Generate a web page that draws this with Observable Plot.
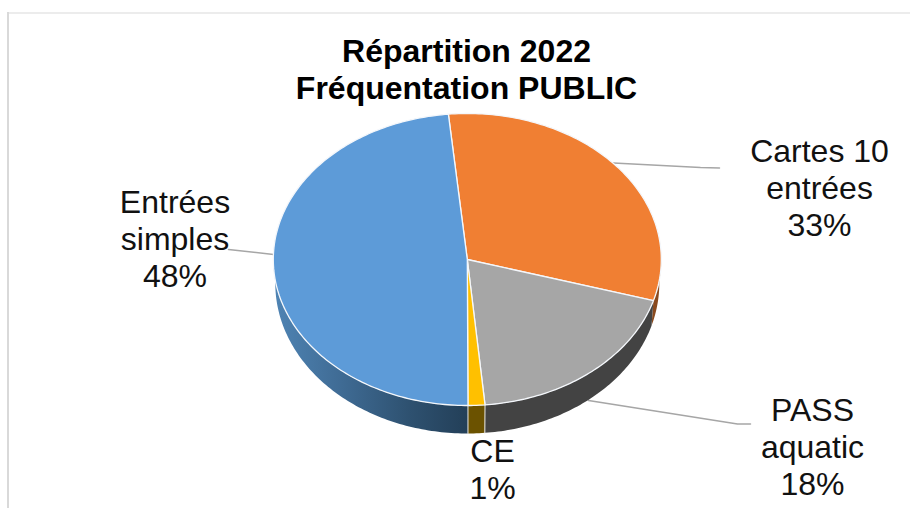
<!DOCTYPE html>
<html>
<head>
<meta charset="utf-8">
<script src="https://cdn.jsdelivr.net/npm/d3@7"></script>
<script src="https://cdn.jsdelivr.net/npm/@observablehq/plot@0.6"></script>
<style>
html,body{margin:0;padding:0;background:#fff}
svg{display:block}
</style>
</head>
<body>
<div id="chart"></div>
<script>
// Data
const categories = ["Cartes 10\nentrées", "PASS\naquatic", "CE", "Entrées\nsimples"];
const percentLabels = [33, 18, 1, 48];
// apparent share of the ellipse each slice occupies
const apparentShares = [31.1, 19, 1.4, 48.5];
const titleLines = ["Répartition 2022", "Fréquentation PUBLIC"];

// Style
const topColors = ["#f07f33", "#a6a6a6", "#ffc000", "#5d9bd8"];
const sideFills = ["#8a4a1e", "#434343", "#6b5200", "url(#blueSide)"];
const font = "Liberation Sans, Arial, sans-serif";

// Layout
const W = 910, H = 508;
const startDeg = -5.6;
const topE = {cx: 466.8, cy: 259, rx: 194, ry: 146};
const botE = {cx: 466.8, cy: 283, rx: 192, ry: 150};
const labelAt = [
  {x: 819, y: 186.5},
  {x: 812, y: 445.5},
  {x: 492, y: 468.5},
  {x: 174.5, y: 237.5}
];
const leaders = [
  [{x: 613, y: 162.5}, {x: 700, y: 167}, {x: 719, y: 167.5}],
  [{x: 588, y: 400}, {x: 737, y: 423.5}, {x: 750, y: 423.5}],
  [{x: 228, y: 249}, {x: 273, y: 254}]
];

const rad = d => d * Math.PI / 180;
const onE = (e, deg) => ({x: e.cx + e.rx * Math.sin(rad(deg)), y: e.cy - e.ry * Math.cos(rad(deg))});
function arc(e, a, b) {
  const n = Math.max(2, Math.ceil(Math.abs(b - a) / 1));
  return d3.range(n + 1).map(i => onE(e, a + (b - a) * i / n));
}
const edges = [startDeg, ...d3.cumsum(apparentShares, v => v * 3.6)].map((v, i) => i === 0 ? v : v + startDeg);
const slices = apparentShares.map((_, i) => ({a: edges[i], b: edges[i + 1]}));

const tops = slices.map(s => {
  const pts = [{x: topE.cx, y: topE.cy}, ...arc(topE, s.a, s.b)];
  pts.push(pts[0]);
  return pts;
});
const sides = slices.map(s => {
  const a = Math.max(s.a, 90), b = Math.min(s.b, 270);
  if (a >= b) return [];
  const pts = [...arc(botE, a, b), ...arc(topE, b, a)];
  pts.push(pts[0]);
  return pts;
});
const seams = edges.slice(1, 4).filter(d => d > 120 && d < 240).map(d => [onE(topE, d), onE(botE, d)]);

const defs = () => {
  const ns = "http://www.w3.org/2000/svg";
  const d = document.createElementNS(ns, "defs");
  d.innerHTML = `<linearGradient id="blueSide" x1="0" x2="1" y1="0" y2="0">
    <stop offset="0" stop-color="#4f84b4"/><stop offset="0.35" stop-color="#3f6b94"/>
    <stop offset="0.7" stop-color="#2e5170"/><stop offset="1" stop-color="#233f58"/></linearGradient>`;
  return d;
};

const chart = Plot.plot({
  width: W, height: H,
  margin: 0,
  x: {domain: [0, W], range: [0, W], axis: null},
  y: {domain: [0, H], range: [0, H], axis: null},
  style: {background: "#fff"},
  marks: [
    defs,
    // picture frame
    Plot.ruleX([7.5], {y1: 12, y2: H, stroke: "#d9d9d9", strokeWidth: 2}),
    Plot.ruleY([12.5], {x1: 7, x2: W, stroke: "#d9d9d9", strokeWidth: 1}),
    // leader lines
    ...leaders.map(l => Plot.line(l, {x: "x", y: "y", stroke: "#a6a6a6", strokeWidth: 1.5})),
    // rim
    ...sides.map((pts, i) => Plot.line(pts, {x: "x", y: "y", fill: sideFills[i], stroke: "none"})),
    ...seams.map(l => Plot.line(l, {x: "x", y: "y", stroke: "#e8e8e8", strokeWidth: 1})),
    // top face
    ...tops.map((pts, i) => Plot.line(pts, {x: "x", y: "y", fill: topColors[i], stroke: "#f4f7fb", strokeWidth: 1.3, strokeLinejoin: "round"})),
    // title
    Plot.text([titleLines.join("\n")], {
      x: 466, y: 68.5, text: d => d, fontFamily: font, fontWeight: "bold", fontSize: 32, lineHeight: 1.16, fill: "#000"
    }),
    // labels
    Plot.text(categories.map((c, i) => ({t: `${c}\n${percentLabels[i]}%`, ...labelAt[i]})), {
      x: "x", y: "y", text: "t", fontFamily: font, fontSize: 32, lineHeight: 1.16, fill: "#111"
    })
  ]
});
document.getElementById("chart").append(chart);
</script>
</body>
</html>
